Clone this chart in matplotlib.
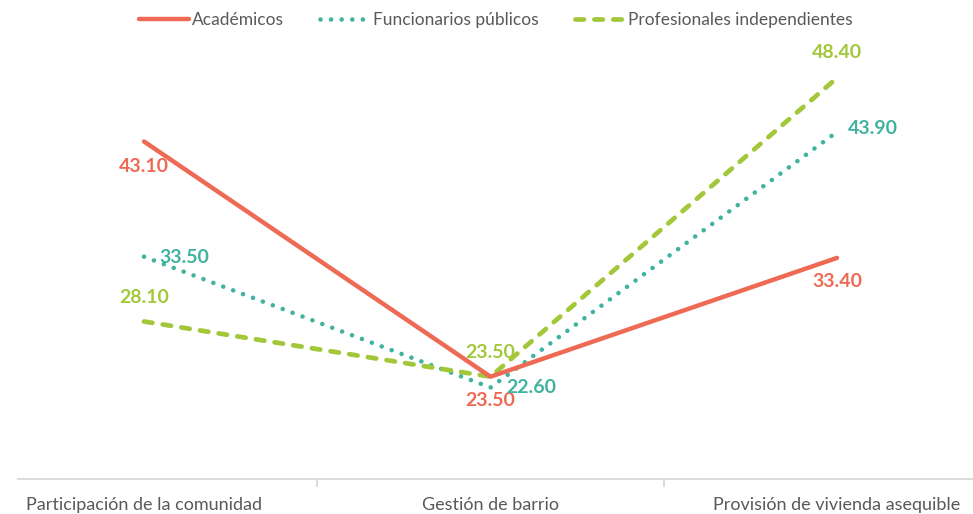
import matplotlib
matplotlib.use("Agg")
import matplotlib.pyplot as plt
from matplotlib.lines import Line2D

categories = ["Participación de la comunidad", "Gestión de barrio", "Provisión de vivienda asequible"]
series_names = ["Académicos", "Funcionarios públicos", "Profesionales independientes"]
academicos = [43.10, 23.50, 33.40]
funcionarios = [33.50, 22.60, 43.90]
profesionales = [28.10, 23.50, 48.40]

colors = ["#EE6A55", "#3FB39E", "#A2C83A"]
text_color = "#595959"
plt.rcParams['font.family'] = ['Lato', 'DejaVu Sans']

W, H = 973, 514
fig = plt.figure(figsize=(W / 100, H / 100), dpi=100)
left_px, right_px, bottom_px, top_px = 18, 973, 479, 40
ax = fig.add_axes([left_px / W, (H - bottom_px) / H, (right_px - left_px) / W, (bottom_px - top_px) / H])

cx0, pitch = 144, 346.5
ax.set_xlim((left_px - cx0) / pitch, (right_px - cx0) / pitch)
ref_y, ref_v, ppu = 376.7, 23.5, 12.0
ax.set_ylim(ref_v - (bottom_px - ref_y) / ppu, ref_v + (ref_y - top_px) / ppu)

x = list(range(len(categories)))
ax.plot(x, academicos, color=colors[0], lw=3.2, solid_capstyle='round', zorder=3)
ax.plot(x, funcionarios, color=colors[1], lw=3.3, linestyle=(0, (0.01, 2.3)),
        dash_capstyle='round', zorder=2)
ax.plot(x, profesionales, color=colors[2], lw=3.4, linestyle=(0, (1.8, 2.2)),
        dash_capstyle='round', zorder=2)

# data label offsets in pixels (dx, dy; dy positive up)
offs = [
    [(0, -25), (0, -24), (0, -24)],   # Académicos
    [(40, -1), (41, 0), (36, 3)],     # Funcionarios
    [(0, 24), (0, 24), (0, 25)],      # Profesionales
]
for si, vals in enumerate([academicos, funcionarios, profesionales]):
    for ci, v in enumerate(vals):
        dx, dy = offs[si][ci]
        ax.annotate(f"{v:.2f}", (ci, v), xytext=(dx * 0.72, dy * 0.72), textcoords='offset points',
                    color=colors[si], fontsize=14, fontweight='bold', ha='center', va='center')

for s in ['top', 'right', 'left']:
    ax.spines[s].set_visible(False)
ax.spines['bottom'].set_color('#D9D9D9')
ax.spines['bottom'].set_linewidth(1.3)
ax.set_yticks([])
ax.set_xticks(x)
ax.set_xticklabels(categories, fontsize=13, color=text_color, fontweight='normal')
ax.tick_params(axis='x', which='major', length=0, pad=13)
ax.set_xticks([0.5, 1.5], minor=True)
ax.tick_params(axis='x', which='minor', length=6, color='#D9D9D9', width=1.3)

handles = [
    Line2D([], [], color=colors[0], lw=3.2, solid_capstyle='round'),
    Line2D([], [], color=colors[1], lw=3.3, linestyle=(0, (0.01, 2.3)), dash_capstyle='round'),
    Line2D([], [], color=colors[2], lw=3.4, linestyle=(0, (1.8, 2.2)), dash_capstyle='round'),
]
fig.legend(handles, series_names, loc='center', bbox_to_anchor=(496 / W, (H - 20) / H),
           ncol=3, frameon=False, handlelength=2.9, handletextpad=0.15,
           columnspacing=2.1, labelcolor=text_color, prop={'weight': 'normal', 'size': 12.5})

fig.savefig("out.png", dpi=100)
